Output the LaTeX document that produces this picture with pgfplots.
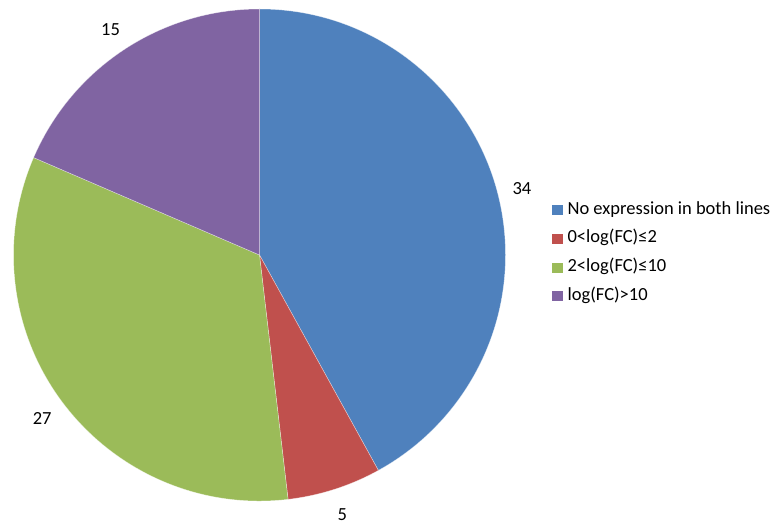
\documentclass[border=0pt]{standalone}
\usepackage{pgfplots}
\pgfplotsset{compat=1.18}
\usepackage{fontspec}
\setmainfont{Carlito}

\definecolor{sliceblue}{HTML}{4F81BD}
\definecolor{slicered}{HTML}{C0504D}
\definecolor{slicegreen}{HTML}{9BBB59}
\definecolor{slicepurple}{HTML}{8064A2}

% pie geometry in axis units (1 unit = 1pt)
\def\cx{259.5}
\def\cy{267}
\def\rad{246}
\def\labrad{271}
\pgfmathsetmacro\total{34+5+27+15}

% #1 sum of the preceding values, #2 value, #3 colour
\newcommand\pieslice[3]{%
  \pgfmathsetmacro\sa{90-(#1)/\total*360}%
  \pgfmathsetmacro\ea{90-(#1+#2)/\total*360}%
  \pgfmathsetmacro\ma{(\sa+\ea)/2}%
  \pgfmathsetmacro\sx{\cx+\rad*cos(\sa)}%
  \pgfmathsetmacro\sy{\cy+\rad*sin(\sa)}%
  \pgfmathsetmacro\lx{\cx+\labrad*cos(\ma)}%
  \pgfmathsetmacro\ly{\cy+\labrad*sin(\ma)-1.5}%
  \edef\temp{%
    \noexpand\filldraw[fill=#3, draw=white, draw opacity=0.5, line width=0.5pt]
      (axis cs:\cx,\cy) -- (axis cs:\sx,\sy)
      arc[start angle=\sa, end angle=\ea, radius=\rad pt] -- cycle;
    \noexpand\node[font=\noexpand\fontsize{18.5}{22}\noexpand\selectfont]
      at (axis cs:\lx,\ly) {#2};}%
  \temp
}

\begin{document}
\begin{tikzpicture}
\begin{axis}[
  scale only axis,
  width=771pt, height=522pt,
  xmin=0, xmax=771, ymin=0, ymax=522,
  hide axis, clip=false,
  legend cell align=left,
  legend style={
    at={(axis cs:552,321)}, anchor=north west,
    draw=none, fill=none, inner sep=0pt,
    font=\fontsize{18.5}{22}\selectfont,
    row sep=11.8pt,
    nodes={inner sep=0pt, text height=13pt, text depth=4pt},
    /tikz/every odd column/.append style={column sep=5pt},
  },
]
\path (axis cs:0,0) rectangle (axis cs:771,522);

\pieslice{0}{34}{sliceblue}
\pieslice{34}{5}{slicered}
\pieslice{39}{27}{slicegreen}
\pieslice{66}{15}{slicepurple}

\addlegendimage{legend image code/.code={\fill[sliceblue] (0pt,-4.5pt) rectangle (10pt,4.5pt);}}
\addlegendentry{No expression in both lines}
\addlegendimage{legend image code/.code={\fill[slicered] (0pt,-4.5pt) rectangle (10pt,4.5pt);}}
\addlegendentry{0<log(FC)≤2}
\addlegendimage{legend image code/.code={\fill[slicegreen] (0pt,-4.5pt) rectangle (10pt,4.5pt);}}
\addlegendentry{2<log(FC)≤10}
\addlegendimage{legend image code/.code={\fill[slicepurple] (0pt,-4.5pt) rectangle (10pt,4.5pt);}}
\addlegendentry{log(FC)>10}
\end{axis}
\end{tikzpicture}
\end{document}
